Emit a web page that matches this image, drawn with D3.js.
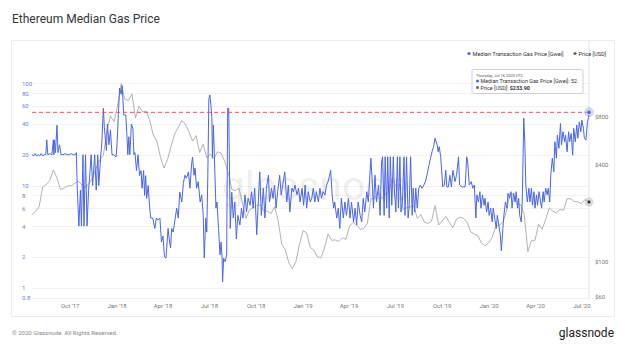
<!DOCTYPE html>
<html>
<head>
<meta charset="utf-8">
<script src="https://cdn.jsdelivr.net/npm/d3@7"></script>
<style>
  body { margin: 0; background: #fff; }
  svg { display: block; font-family: Roboto, "Open Sans", sans-serif; }
</style>
</head>
<body>
<div id="chart"></div>
<script>
const gasData = [
  ["2017-07-19",20],["2017-07-22",19.5],["2017-07-25",20.5],["2017-07-28",19.5],["2017-07-31",20],["2017-08-03",19.5],
  ["2017-08-06",20.5],["2017-08-09",19.5],["2017-08-12",20],["2017-08-15",20],["2017-08-17",28],["2017-08-19",20],
  ["2017-08-23",20.5],["2017-08-27",20],["2017-08-30",28],["2017-08-31",20],["2017-09-01",28],["2017-09-03",21],
  ["2017-09-06",39],["2017-09-08",21],["2017-09-11",25],["2017-09-14",20],["2017-09-18",20],["2017-09-22",20.5],
  ["2017-09-26",20],["2017-09-30",20],["2017-10-04",20.5],["2017-10-08",20],["2017-10-12",20],["2017-10-14",21],
  ["2017-10-16",9],["2017-10-19",4],["2017-10-22",9],["2017-10-24",4],["2017-10-27",20],["2017-10-29",4],
  ["2017-11-01",20],["2017-11-04",4],["2017-11-07",9],["2017-11-09",12],["2017-11-12",20],["2017-11-15",10],
  ["2017-11-19",20],["2017-11-22",9],["2017-11-25",20],["2017-11-27",10],["2017-12-01",20],["2017-12-03",26],
  ["2017-12-06",57],["2017-12-08",37],["2017-12-12",22],["2017-12-14",40],["2017-12-17",25],["2017-12-20",35],
  ["2017-12-23",20],["2017-12-27",20],["2017-12-31",19],["2018-01-02",26],["2018-01-05",57],["2018-01-07",90],
  ["2018-01-10",78],["2018-01-12",95],["2018-01-15",49],["2018-01-19",49],["2018-01-21",33],["2018-01-23",20],
  ["2018-01-25",30],["2018-01-27",20],["2018-01-30",40],["2018-02-02",36],["2018-02-04",20],["2018-02-06",21],
  ["2018-02-09",14],["2018-02-12",20],["2018-02-15",12.5],["2018-02-18",14],["2018-02-20",9.4],["2018-02-23",14],
  ["2018-02-25",8],["2018-02-27",12.5],["2018-03-01",7.5],["2018-03-04",10],["2018-03-07",6],["2018-03-09",4.8],
  ["2018-03-13",4.8],["2018-03-17",3.8],["2018-03-20",4.8],["2018-03-23",4.6],["2018-03-27",4.8],["2018-03-30",2.8],
  ["2018-04-02",3.2],["2018-04-05",2],["2018-04-08",1.95],["2018-04-12",3.8],["2018-04-15",2.8],["2018-04-17",2.45],
  ["2018-04-19",3.8],["2018-04-22",3.5],["2018-04-26",4.8],["2018-04-29",6],["2018-05-02",4.8],["2018-05-05",8.6],
  ["2018-05-09",6.9],["2018-05-12",10.5],["2018-05-15",12.6],["2018-05-18",11.8],["2018-05-22",13.6],["2018-05-25",9.4],
  ["2018-05-28",15.8],["2018-05-30",19],["2018-06-02",12.6],["2018-06-04",14.8],["2018-06-07",9.4],["2018-06-10",10.9],
  ["2018-06-14",6.9],["2018-06-17",8.1],["2018-06-20",5.1],["2018-06-22",1.95],["2018-06-25",4.8],["2018-06-27",3.5],
  ["2018-06-29",12.6],["2018-07-01",70],["2018-07-03",77],["2018-07-05",62],["2018-07-07",46],["2018-07-08",18.5],
  ["2018-07-10",39],["2018-07-13",12.6],["2018-07-15",6],["2018-07-17",6.9],["2018-07-20",3.8],["2018-07-23",2.1],
  ["2018-07-25",2.8],["2018-07-27",1.95],["2018-07-28",1.14],["2018-07-30",1.94],["2018-08-02",1.8],["2018-08-05",2.1],
  ["2018-08-07",57],["2018-08-09",57],["2018-08-12",3.8],["2018-08-15",8.6],["2018-08-18",4.8],["2018-08-21",6.9],
  ["2018-08-24",3],["2018-08-27",5.1],["2018-08-31",4.1],["2018-09-03",6],["2018-09-06",4.8],["2018-09-10",8.1],
  ["2018-09-13",5.5],["2018-09-16",7.5],["2018-09-20",6.4],["2018-09-23",8.7],["2018-09-26",6],["2018-09-29",9.4],
  ["2018-10-03",3.3],["2018-10-06",6.9],["2018-10-09",13.6],["2018-10-12",5.1],["2018-10-16",9.4],["2018-10-19",4.8],
  ["2018-10-22",9.4],["2018-10-26",12.6],["2018-10-28",6.9],["2018-11-01",9.4],["2018-11-04",7.5],["2018-11-07",10.1],
  ["2018-11-10",6],["2018-11-13",8.7],["2018-11-17",12.6],["2018-11-20",8.1],["2018-11-23",10.1],["2018-11-27",13.6],
  ["2018-12-01",6.9],["2018-12-04",10.1],["2018-12-07",5.5],["2018-12-11",9.4],["2018-12-14",8.7],["2018-12-17",10.1],
  ["2018-12-21",8.1],["2018-12-24",9.4],["2018-12-27",6.9],["2018-12-31",9.4],["2019-01-03",6.4],["2019-01-06",10.1],
  ["2019-01-09",6],["2019-01-12",8.7],["2019-01-16",6.9],["2019-01-19",7.5],["2019-01-22",9.4],["2019-01-25",6.9],
  ["2019-01-28",8.7],["2019-02-01",6.9],["2019-02-04",9.4],["2019-02-07",7.5],["2019-02-10",8.7],["2019-02-14",8.1],
  ["2019-02-17",10.1],["2019-02-20",10.9],["2019-02-23",12.6],["2019-02-25",14.1],["2019-02-28",8.1],["2019-03-03",6],
  ["2019-03-05",6.9],["2019-03-09",4.8],["2019-03-12",6],["2019-03-15",3.8],["2019-03-18",7.5],["2019-03-22",4.8],
  ["2019-03-25",6.9],["2019-03-28",5.1],["2019-04-01",7.5],["2019-04-04",4.8],["2019-04-07",6.9],["2019-04-11",4.4],
  ["2019-04-14",6],["2019-04-17",4.1],["2019-04-20",6.9],["2019-04-24",5.1],["2019-04-27",4.4],["2019-04-30",7.5],
  ["2019-05-03",5.5],["2019-05-07",8.7],["2019-05-10",6.9],["2019-05-13",12.6],["2019-05-15",18.5],["2019-05-18",10.1],
  ["2019-05-20",6],["2019-05-23",12.6],["2019-05-26",6.9],["2019-05-30",10.1],["2019-06-02",5.1],["2019-06-05",17.1],
  ["2019-06-07",19.1],["2019-06-10",5.1],["2019-06-12",19.1],["2019-06-15",6],["2019-06-17",19.1],["2019-06-20",4.8],
  ["2019-06-22",19.1],["2019-06-25",6.4],["2019-06-28",19.1],["2019-06-30",9.4],["2019-07-03",5.5],["2019-07-06",19.1],
  ["2019-07-08",6],["2019-07-11",19.1],["2019-07-13",5.5],["2019-07-16",6.9],["2019-07-19",19.1],["2019-07-21",5.1],
  ["2019-07-24",19.1],["2019-07-27",4.8],["2019-07-29",6],["2019-08-01",19.1],["2019-08-04",5.1],["2019-08-06",9.4],
  ["2019-08-09",5.5],["2019-08-11",9.4],["2019-08-14",6],["2019-08-17",9.4],["2019-08-20",10.1],["2019-08-23",9.4],
  ["2019-08-27",10.1],["2019-08-30",10.9],["2019-09-02",12.6],["2019-09-06",15.8],["2019-09-09",18.5],["2019-09-12",21.4],
  ["2019-09-15",24],["2019-09-18",29],["2019-09-22",24.9],["2019-09-24",21.4],["2019-09-26",24],["2019-09-29",19.1],
  ["2019-10-01",13.6],["2019-10-03",9.7],["2019-10-06",10.1],["2019-10-09",14.1],["2019-10-11",9.7],["2019-10-14",9.7],
  ["2019-10-17",12.6],["2019-10-20",9.7],["2019-10-23",14.1],["2019-10-27",10.9],["2019-10-30",12.6],["2019-11-03",19.1],
  ["2019-11-05",10.1],["2019-11-10",9.7],["2019-11-13",9.7],["2019-11-16",9.7],["2019-11-19",19.1],["2019-11-21",17.1],
  ["2019-11-24",10.1],["2019-11-28",10.9],["2019-12-01",9.4],["2019-12-04",10.1],["2019-12-07",4.8],["2019-12-09",8.1],
  ["2019-12-12",6.9],["2019-12-15",8.7],["2019-12-17",6],["2019-12-20",8.1],["2019-12-23",6.4],["2019-12-25",7.5],
  ["2019-12-28",5.5],["2019-12-31",6.9],["2020-01-02",5.1],["2020-01-05",6],["2020-01-08",4.4],["2020-01-10",6],
  ["2020-01-13",4.8],["2020-01-16",3.8],["2020-01-18",5.1],["2020-01-21",4.1],["2020-01-24",3.3],["2020-01-26",2.3],
  ["2020-01-29",3.8],["2020-01-31",5.1],["2020-02-03",6.9],["2020-02-06",6],["2020-02-08",8.4],["2020-02-11",7.5],
  ["2020-02-14",8.7],["2020-02-16",6],["2020-02-19",8.4],["2020-02-22",6.9],["2020-02-24",8.7],["2020-02-27",6],
  ["2020-02-29",7.5],["2020-03-02",5.1],["2020-03-05",4.4],["2020-03-07",6.9],["2020-03-10",45.5],["2020-03-12",26.8],
  ["2020-03-14",10.1],["2020-03-17",6.9],["2020-03-20",9.4],["2020-03-22",6.9],["2020-03-25",9.4],["2020-03-27",6.4],
  ["2020-03-30",8.7],["2020-04-01",6],["2020-04-04",8.1],["2020-04-06",6.4],["2020-04-09",8.7],["2020-04-12",6.9],
  ["2020-04-14",6],["2020-04-17",8.7],["2020-04-19",6.9],["2020-04-22",9.4],["2020-04-25",8.1],["2020-04-27",9.4],
  ["2020-04-30",6.9],["2020-05-02",12.6],["2020-05-05",18.5],["2020-05-08",13.6],["2020-05-10",26.8],["2020-05-13",18.5],
  ["2020-05-15",31.1],["2020-05-18",23.1],["2020-05-21",40.5],["2020-05-23",24.9],["2020-05-26",33.6],["2020-05-29",26.8],
  ["2020-05-31",31.1],["2020-06-03",21.4],["2020-06-06",33.6],["2020-06-08",26.8],["2020-06-11",32.3],["2020-06-14",19.8],
  ["2020-06-16",36.3],["2020-06-19",26.8],["2020-06-22",39],["2020-06-24",29],["2020-06-27",42],["2020-06-30",33.6],
  ["2020-07-02",43.6],["2020-07-05",36.3],["2020-07-07",29],["2020-07-10",27.8],["2020-07-13",42],["2020-07-15",46],
  ["2020-07-16",52]
];

// ETH price [USD], weekly from 2017-07-19
const priceStart = "2017-07-19";
const priceWeekly = [
  194,205,218,290,300,318,370,330,280,285,295,295,305,315,298,290,305,330,380,430,455,650,800,740,
  930,1270,1020,1000,1100,780,920,850,860,750,610,560,445,380,430,520,620,680,750,710,640,560,605,475,535,440,
  465,435,480,470,420,355,280,275,285,230,185,210,215,222,225,205,205,198,218,180,128,118,98,90,100,128,
  155,150,122,117,107,105,121,148,135,136,133,140,137,165,175,168,158,160,172,245,245,270,245,260,270,330,
  292,305,210,215,218,222,185,195,175,172,178,222,168,178,190,175,162,183,188,185,175,152,148,144,130,125,
  130,141,165,168,175,205,265,260,225,225,195,115,135,135,170,158,182,215,205,200,210,208,245,245,235,235,
  228,242,236
];

// hovered point shown in the tooltip
const hoverDate = "2020-07-16";
const hoverGas = 52;
const hoverPrice = 233.90;

const gasTicks = [0.8, 1, 2, 4, 6, 8, 10, 20, 40, 60, 80, 100];
const priceTicks = [60, 100, 400, 800];
const threshold = 52;

const W = 628, H = 352;
const parse = d3.utcParse("%Y-%m-%d");

const gas = gasData.map(d => ({ date: parse(d[0]), value: d[1] }));
const price = priceWeekly.map((v, i) => ({ date: d3.utcDay.offset(parse(priceStart), i * 7), value: v }));
price.push({ date: parse(hoverDate), value: hoverPrice });

const x = d3.scaleUtc().domain([parse("2017-07-19"), parse(hoverDate)]).range([32, 589]);
const yGas = d3.scaleLog().domain([1, 100]).range([287.7, 83.3]);
const yPrice = d3.scaleLog().domain([100, 800]).range([261.3, 116.1]);

const svg = d3.select("#chart").append("svg")
    .attr("width", W)
    .attr("height", H);

// title
svg.append("text")
    .attr("x", 12).attr("y", 23)
    .attr("font-size", 12)
    .attr("fill", "#333")
    .text("Ethereum Median Gas Price");

// card
svg.append("rect")
    .attr("x", 11.5).attr("y", 40.5)
    .attr("width", 603).attr("height", 276)
    .attr("fill", "#fff")
    .attr("stroke", "#ebebeb");

// grid
svg.append("g")
    .selectAll("line")
    .data(gasTicks)
    .join("line")
    .attr("x1", 32).attr("x2", 589)
    .attr("y1", d => Math.round(yGas(d)) + 0.5)
    .attr("y2", d => Math.round(yGas(d)) + 0.5)
    .attr("stroke", "#f2f2f2");

// watermark
svg.append("text")
    .attr("x", 316).attr("y", 200)
    .attr("text-anchor", "middle")
    .attr("font-size", 41)
    .attr("fill", "#000")
    .attr("fill-opacity", 0.08)
    .text("glassnode");

// crosshair at hovered date
svg.append("line")
    .attr("x1", x(parse(hoverDate))).attr("x2", x(parse(hoverDate)))
    .attr("y1", 41).attr("y2", 300)
    .attr("stroke", "#e3e3e3");

// left axis (gas)
const leftAxis = svg.append("g")
    .attr("transform", "translate(22,0)")
    .call(d3.axisLeft(yGas).tickValues(gasTicks).tickSize(0).tickFormat(d3.format("~g")));
leftAxis.select(".domain").remove();
leftAxis.selectAll("text")
    .attr("x", 0)
    .attr("text-anchor", "start")
    .attr("font-size", 6)
    .attr("font-family", "Roboto, sans-serif")
    .attr("fill", "#6a7fe0");

// right axis (price)
const rightAxis = svg.append("g")
    .attr("transform", "translate(595,0)")
    .call(d3.axisRight(yPrice).tickValues(priceTicks).tickSize(0).tickFormat(d => "$" + d));
rightAxis.select(".domain").remove();
rightAxis.selectAll("text")
    .attr("x", 0)
    .attr("font-size", 6)
    .attr("font-family", "Roboto, sans-serif")
    .attr("fill", "#777");

// x axis
const xAxis = svg.append("g")
    .attr("transform", "translate(0,301)")
    .call(d3.axisBottom(x)
        .ticks(d3.utcMonth.every(3))
        .tickSize(0)
        .tickFormat(d3.utcFormat("%b '%y")));
xAxis.select(".domain").remove();
xAxis.selectAll("text")
    .attr("font-size", 6)
    .attr("font-family", "Roboto, sans-serif")
    .attr("fill", "#777");

// price line
svg.append("path")
    .datum(price)
    .attr("fill", "none")
    .attr("stroke", "#999")
    .attr("stroke-width", 0.75)
    .attr("d", d3.line().x(d => x(d.date)).y(d => yPrice(d.value)));

// gas line
svg.append("path")
    .datum(gas)
    .attr("fill", "none")
    .attr("stroke", "#4a66ea")
    .attr("stroke-width", 1)
    .attr("stroke-linejoin", "round")
    .attr("d", d3.line().x(d => x(d.date)).y(d => yGas(d.value)));

// threshold line
svg.append("line")
    .attr("x1", 32).attr("x2", 589)
    .attr("y1", yGas(threshold)).attr("y2", yGas(threshold))
    .attr("stroke", "#f05252")
    .attr("stroke-width", 1)
    .attr("stroke-dasharray", "4,3");

// hover markers
const hx = x(parse(hoverDate));
svg.append("circle").attr("cx", hx).attr("cy", yGas(hoverGas)).attr("r", 5)
    .attr("fill", "#4a66ea").attr("fill-opacity", 0.25);
svg.append("circle").attr("cx", hx).attr("cy", yGas(hoverGas)).attr("r", 2.2)
    .attr("fill", "#4a66ea").attr("stroke", "#fff").attr("stroke-width", 0.6);
svg.append("circle").attr("cx", hx).attr("cy", yPrice(hoverPrice)).attr("r", 4.5)
    .attr("fill", "#888").attr("fill-opacity", 0.3);
svg.append("circle").attr("cx", hx).attr("cy", yPrice(hoverPrice)).attr("r", 2)
    .attr("fill", "#333").attr("stroke", "#fff").attr("stroke-width", 0.6);

// legend
const legend = svg.append("g").attr("font-size", 5.6).attr("fill", "#333");
legend.append("circle").attr("cx", 469).attr("cy", 53.5).attr("r", 1.6).attr("fill", "#4a66ea");
legend.append("text").attr("x", 472.5).attr("y", 55.5).text("Median Transaction Gas Price [Gwei]");
legend.append("circle").attr("cx", 575).attr("cy", 53.5).attr("r", 1.6).attr("fill", "#666");
legend.append("text").attr("x", 578.5).attr("y", 55.5).text("Price [USD]");

// tooltip
const tip = svg.append("g");
tip.append("rect")
    .attr("x", 472).attr("y", 69.5).attr("width", 111).attr("height", 24).attr("rx", 1.5)
    .attr("fill", "#fff").attr("fill-opacity", 0.95)
    .attr("stroke", "#b9c2ec").attr("stroke-width", 0.8);
tip.append("text").attr("x", 476).attr("y", 76.5)
    .attr("font-size", 4).attr("fill", "#555")
    .text(d3.utcFormat("%A, %b %d %Y")(parse(hoverDate)) + " UTC");
tip.append("circle").attr("cx", 477.5).attr("cy", 81).attr("r", 1.5).attr("fill", "#4a66ea");
tip.append("text").attr("x", 480.5).attr("y", 83)
    .attr("font-size", 5.4).attr("fill", "#333")
    .text("Median Transaction Gas Price [Gwei]: " + hoverGas);
tip.append("circle").attr("cx", 477.5).attr("cy", 87.5).attr("r", 1.5).attr("fill", "#666");
const pt = tip.append("text").attr("x", 480.5).attr("y", 89.5)
    .attr("font-size", 5.4).attr("fill", "#333");
pt.append("tspan").text("Price [USD]: ");
pt.append("tspan").attr("font-weight", "bold").text("$" + d3.format(".2f")(hoverPrice));

// footer
svg.append("text")
    .attr("x", 12).attr("y", 335)
    .attr("font-size", 6)
    .attr("fill", "#888")
    .text("© 2020 Glassnode. All Rights Reserved.");
svg.append("text")
    .attr("x", 614).attr("y", 337)
    .attr("text-anchor", "end")
    .attr("font-size", 12)
    .attr("fill", "#222")
    .text("glassnode");
</script>
</body>
</html>
